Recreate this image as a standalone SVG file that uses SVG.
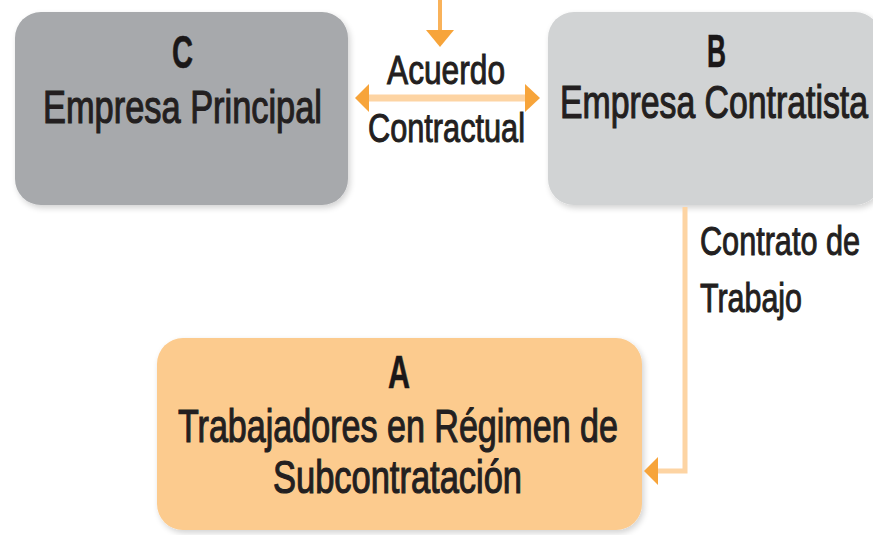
<svg xmlns="http://www.w3.org/2000/svg" width="873" height="535" viewBox="0 0 873 535">
  <style>
    .t { font-family: "Liberation Sans", Arial, sans-serif; fill: #231f20; stroke: #231f20; stroke-width: 1.2; font-size: 47px; }
    .h { font-family: "Liberation Sans", Arial, sans-serif; fill: #1a1718; stroke: #1a1718; stroke-width: 0.6; font-weight: bold; font-size: 47px; }
    .l { font-family: "Liberation Sans", Arial, sans-serif; fill: #231f20; stroke: #231f20; stroke-width: 1; font-size: 40px; }
    .line { fill: none; stroke: #fdd4a3; stroke-linecap: butt; }
    .head { fill: #f7a43a; }
  </style>
  <defs>
    <filter id="sh" x="-10%" y="-10%" width="120%" height="125%">
      <feGaussianBlur in="SourceAlpha" stdDeviation="3"/>
      <feOffset dx="2" dy="3" result="b"/>
      <feComponentTransfer><feFuncA type="linear" slope="0.18"/></feComponentTransfer>
      <feMerge><feMergeNode/><feMergeNode in="SourceGraphic"/></feMerge>
    </filter>
  </defs>
  <rect width="873" height="535" fill="#ffffff"/>

  <g id="nodeC">
    <rect x="15" y="12" width="333" height="193" rx="26" fill="#a7a9ac" filter="url(#sh)"/>
    <text class="h" x="172" y="68" textLength="21" lengthAdjust="spacingAndGlyphs">C</text>
    <text class="t" x="43" y="123" textLength="279" lengthAdjust="spacingAndGlyphs">Empresa Principal</text>
  </g>

  <g id="nodeB">
    <rect x="548" y="12" width="333" height="193" rx="26" fill="#d1d3d4" filter="url(#sh)"/>
    <text class="h" x="707" y="67" textLength="19" lengthAdjust="spacingAndGlyphs">B</text>
    <text class="t" x="560" y="118" textLength="308" lengthAdjust="spacingAndGlyphs">Empresa Contratista</text>
  </g>

  <g id="nodeA">
    <rect x="157" y="338" width="485" height="192" rx="26" fill="#fccb8e" filter="url(#sh)"/>
    <text class="h" x="388" y="388" textLength="22" lengthAdjust="spacingAndGlyphs">A</text>
    <text class="t" x="178" y="442" textLength="440" lengthAdjust="spacingAndGlyphs">Trabajadores en Régimen de</text>
    <text class="t" x="273" y="493" textLength="249" lengthAdjust="spacingAndGlyphs">Subcontratación</text>
  </g>

  <g id="connectors">
    <line x1="440" y1="0" x2="440" y2="32" stroke="#f9b25a" stroke-width="4"/>
    <polygon class="head" points="426,30 454,30 440,47"/>

    <line class="line" x1="366" y1="98" x2="528" y2="98" stroke-width="7"/>
    <polygon class="head" points="355,98 369,84 369,112"/>
    <polygon class="head" points="540,98 525,84 525,112"/>
    <text class="l" x="387" y="84" textLength="118" lengthAdjust="spacingAndGlyphs">Acuerdo</text>
    <text class="l" x="368" y="142" textLength="157" lengthAdjust="spacingAndGlyphs">Contractual</text>

    <path class="line" d="M685,207 V471 H656" stroke-width="5"/>
    <polygon class="head" points="644,471 658,457 658,485"/>
    <text class="l" x="700" y="255" textLength="160" lengthAdjust="spacingAndGlyphs">Contrato de</text>
    <text class="l" x="700" y="312" textLength="102" lengthAdjust="spacingAndGlyphs">Trabajo</text>
  </g>
</svg>
